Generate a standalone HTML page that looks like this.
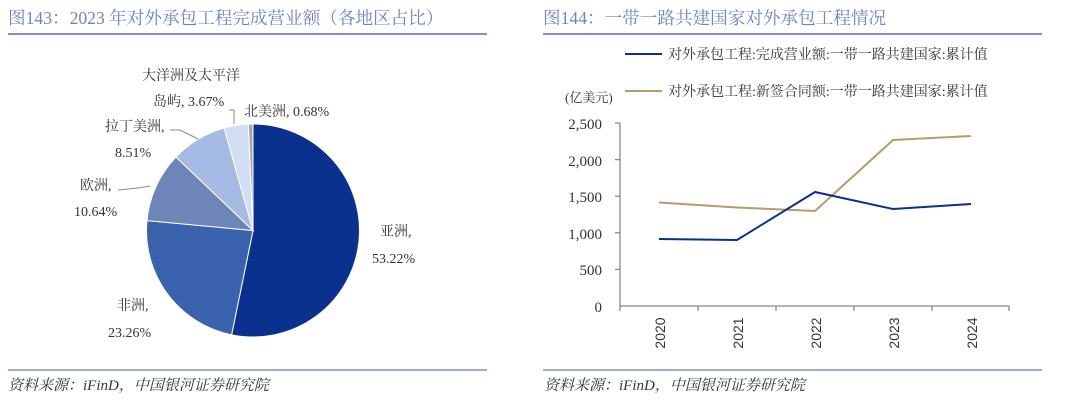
<!DOCTYPE html>
<html><head><meta charset="utf-8"><style>
body{margin:0;width:1080px;height:403px;background:#fff;overflow:hidden}
svg text{font-family:"Liberation Serif","Noto Serif CJK SC",serif}
</style></head><body>
<svg id="s" width="1080" height="403" xmlns="http://www.w3.org/2000/svg">
<text x="8" y="24" font-size="17.6" fill="#6d84c0">图143：2023 年对外承包工程完成营业额（各地区占比）</text>
<line x1="8" y1="34" x2="487" y2="34" stroke="#7b92cc" stroke-width="2"/>
<text x="543" y="24" font-size="17.6" fill="#6d84c0">图144：一带一路共建国家对外承包工程情况</text>
<line x1="543" y1="34" x2="1042" y2="34" stroke="#7b92cc" stroke-width="2"/>
<line x1="8" y1="370" x2="487" y2="370" stroke="#7b92cc" stroke-width="1.5"/>
<line x1="543" y1="370" x2="1042" y2="370" stroke="#7b92cc" stroke-width="1.5"/>
<text x="8" y="390" font-size="15" font-style="italic" fill="#333">资料来源：iFinD，中国银河证券研究院</text>
<text x="544" y="390" font-size="15" font-style="italic" fill="#333">资料来源：iFinD，中国银河证券研究院</text>
<g id="pie"></g>
<g font-size="14" fill="#333">
<text x="142" y="80">大洋洲及太平洋</text>
<text x="153" y="106">岛屿, 3.67%</text>
<text x="244" y="116">北美洲, 0.68%</text>
<text x="105" y="131">拉丁美洲,</text>
<text x="115" y="157">8.51%</text>
<text x="80" y="190">欧洲,</text>
<text x="74" y="216">10.64%</text>
<text x="380" y="236">亚洲,</text>
<text x="372" y="263">53.22%</text>
<text x="117" y="310">非洲,</text>
<text x="108" y="337">23.26%</text>
</g>
<g fill="none" stroke="#888" stroke-width="1">
<polyline points="229,110 234,110 234,124"/>
<polyline points="170,130 180,130 198,139"/>
<polyline points="118,190 138,188 150,186"/>
</g>
<line x1="625" y1="54" x2="662" y2="54" stroke="#0b2f91" stroke-width="2"/>
<text x="668" y="59" font-size="14" fill="#333">对外承包工程:完成营业额:一带一路共建国家:累计值</text>
<line x1="625" y1="91" x2="662" y2="91" stroke="#b99a6a" stroke-width="2"/>
<text x="668" y="96" font-size="14" fill="#333">对外承包工程:新签合同额:一带一路共建国家:累计值</text>
<text x="565" y="102" font-size="13" fill="#333">(亿美元)</text>
<g stroke="#888" stroke-width="1.3">
<line x1="620" y1="123" x2="620" y2="306"/>
<line x1="620" y1="306" x2="1009" y2="306"/>
<line x1="615" y1="123" x2="620" y2="123"/><line x1="615" y1="159.6" x2="620" y2="159.6"/>
<line x1="615" y1="196.2" x2="620" y2="196.2"/><line x1="615" y1="232.8" x2="620" y2="232.8"/>
<line x1="615" y1="269.4" x2="620" y2="269.4"/>
<line x1="620" y1="306" x2="620" y2="311"/><line x1="698" y1="306" x2="698" y2="311"/>
<line x1="776" y1="306" x2="776" y2="311"/><line x1="854" y1="306" x2="854" y2="311"/>
<line x1="932" y1="306" x2="932" y2="311"/><line x1="1009" y1="306" x2="1009" y2="311"/>
</g>
<g font-size="15" fill="#333" text-anchor="end">
<text x="602" y="129">2,500</text><text x="602" y="166">2,000</text>
<text x="602" y="202">1,500</text><text x="602" y="239">1,000</text>
<text x="602" y="275">500</text><text x="602" y="312">0</text>
</g>
<g font-size="14" fill="#333">
<text transform="translate(665,333) rotate(-90)" text-anchor="middle" style="font-family:'Liberation Sans',sans-serif">2020</text>
<text transform="translate(743,333) rotate(-90)" text-anchor="middle" style="font-family:'Liberation Sans',sans-serif">2021</text>
<text transform="translate(821,333) rotate(-90)" text-anchor="middle" style="font-family:'Liberation Sans',sans-serif">2022</text>
<text transform="translate(899,333) rotate(-90)" text-anchor="middle" style="font-family:'Liberation Sans',sans-serif">2023</text>
<text transform="translate(977,333) rotate(-90)" text-anchor="middle" style="font-family:'Liberation Sans',sans-serif">2024</text>
</g>
<polyline fill="none" stroke="#b99a6a" stroke-width="2" points="659,202.5 737,207.5 815,211 893,140 971,136"/>
<polyline fill="none" stroke="#0b2f91" stroke-width="2" points="659,239 737,240 815,192 893,209 971,204"/>
</svg>
<script>
var d=[[53.22,"#0b318f"],[23.26,"#3b63ad"],[10.64,"#6e85b8"],[8.51,"#a6bbe4"],[3.67,"#d1ddf1"],[0.68,"#a6a6a6"]];
var cx=253,cy=230.5,r=106.5,a=0,g=document.getElementById("pie"),h="";
d.forEach(function(e){var a1=a+e[0]/100*2*Math.PI;
var x0=cx+r*Math.sin(a),y0=cy-r*Math.cos(a),x1=cx+r*Math.sin(a1),y1=cy-r*Math.cos(a1);
h+='<path d="M'+cx+','+cy+' L'+x0+','+y0+' A'+r+','+r+' 0 '+(a1-a>Math.PI?1:0)+',1 '+x1+','+y1+' Z" fill="'+e[1]+'" stroke="#fff" stroke-width="1"/>';a=a1;});
g.innerHTML=h;
</script>
</body></html>
